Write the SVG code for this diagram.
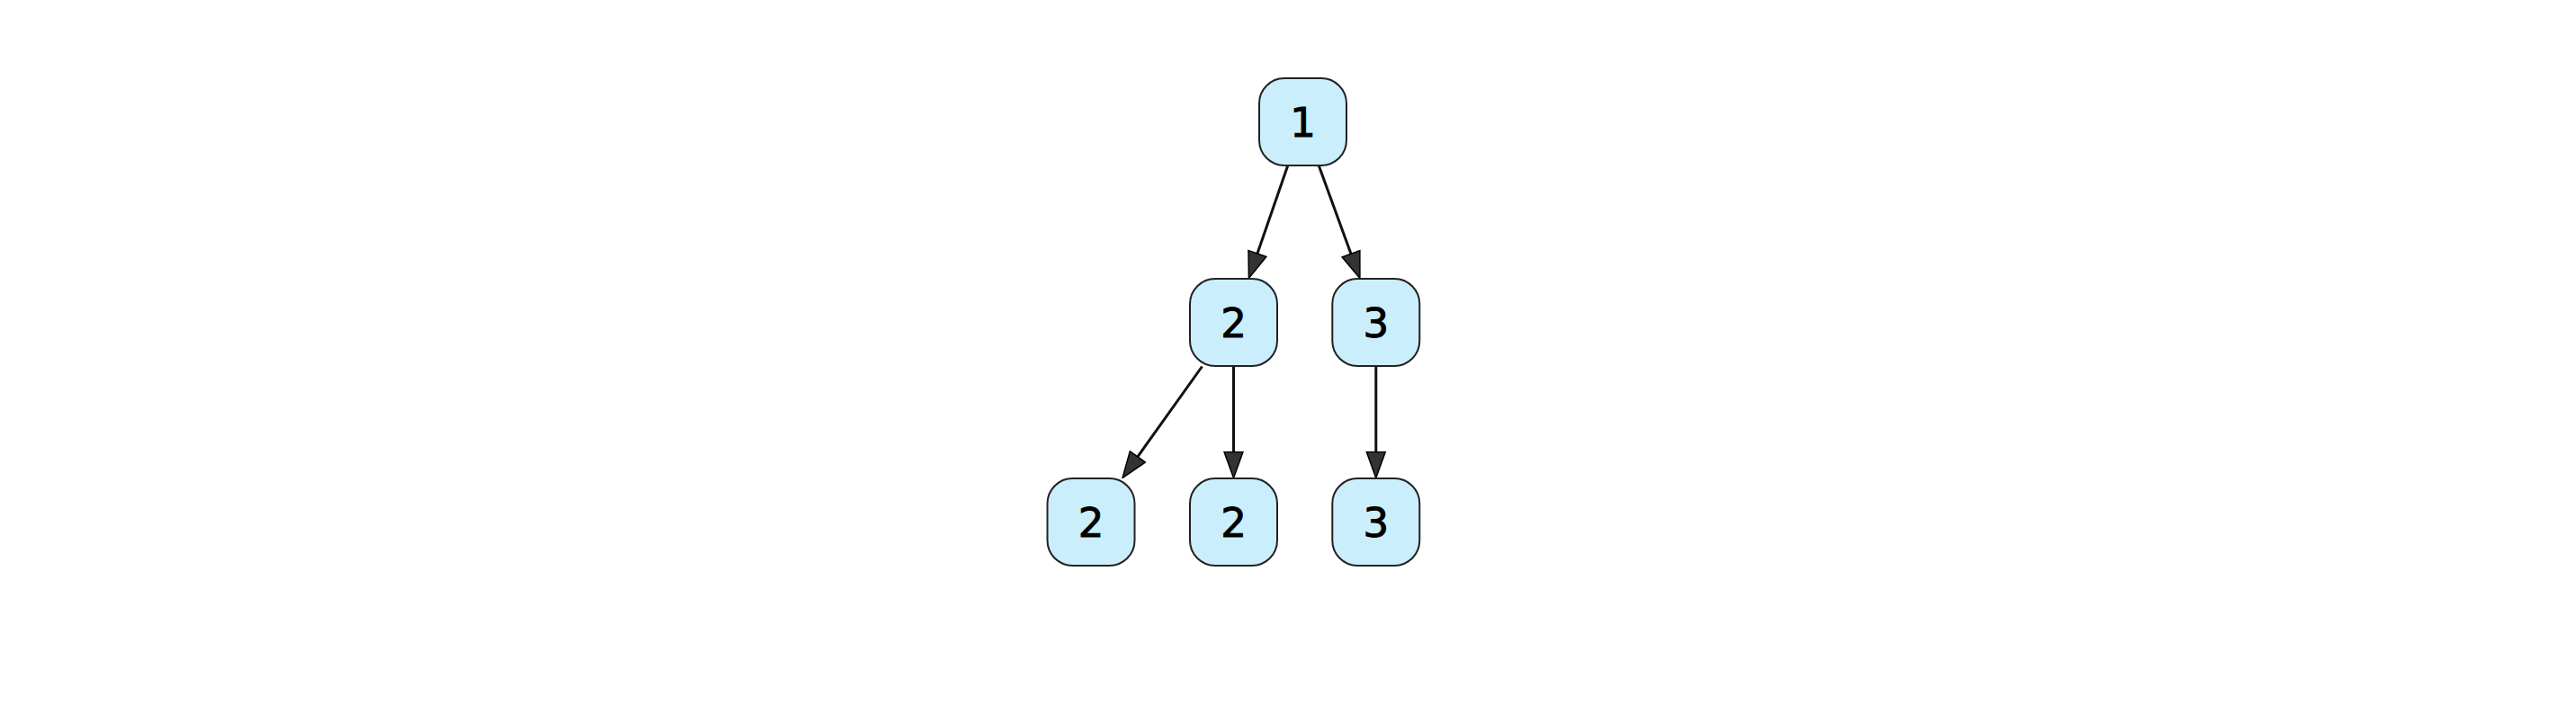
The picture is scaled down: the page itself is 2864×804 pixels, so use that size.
<svg xmlns="http://www.w3.org/2000/svg" width="2864" height="804" viewBox="0 0 2864 804">
<style>
.node rect{fill:#cbeefc;stroke:#222;stroke-width:2}
.node text{font-family:"DejaVu Sans",sans-serif;font-size:45px;fill:#000;stroke:#000;stroke-width:1;text-anchor:middle}
.edge{stroke:#111;stroke-width:3;fill:none}
</style>
<defs>
<marker id="arr" viewBox="0 0 31 23" refX="20" refY="11.5" markerWidth="31" markerHeight="23" markerUnits="userSpaceOnUse" orient="auto">
<path d="M1,1 L30,11.5 L1,22 Z" fill="#333" stroke="#000" stroke-width="1.5" stroke-linejoin="miter"/>
</marker>
</defs>
<rect width="2864" height="804" fill="#fff"/>
<g id="connectors">
<line class="edge" x1="1431.8" y1="184" x2="1391.7" y2="300" marker-end="url(#arr)"/>
<line class="edge" x1="1466.2" y1="184" x2="1508.5" y2="300.1" marker-end="url(#arr)"/>
<line class="edge" x1="1336.5" y1="407.5" x2="1253.8" y2="523.4" marker-end="url(#arr)"/>
<line class="edge" x1="1371.5" y1="407.5" x2="1371.5" y2="521.5" marker-end="url(#arr)"/>
<line class="edge" x1="1529.8" y1="407.5" x2="1529.8" y2="521.5" marker-end="url(#arr)"/>
</g>
<g id="n1" class="node"><rect x="1400" y="87" width="97" height="97" rx="28"/><text x="1448.5" y="152">1</text></g>
<g id="n2" class="node"><rect x="1323" y="310" width="97" height="97" rx="28"/><text x="1371.5" y="375">2</text></g>
<g id="n3" class="node"><rect x="1481.3" y="310" width="97" height="97" rx="28"/><text x="1529.8" y="375">3</text></g>
<g id="n4" class="node"><rect x="1164.5" y="532" width="97" height="97" rx="28"/><text x="1213" y="597">2</text></g>
<g id="n5" class="node"><rect x="1323" y="532" width="97" height="97" rx="28"/><text x="1371.5" y="597">2</text></g>
<g id="n6" class="node"><rect x="1481.3" y="532" width="97" height="97" rx="28"/><text x="1529.8" y="597">3</text></g>
</svg>
